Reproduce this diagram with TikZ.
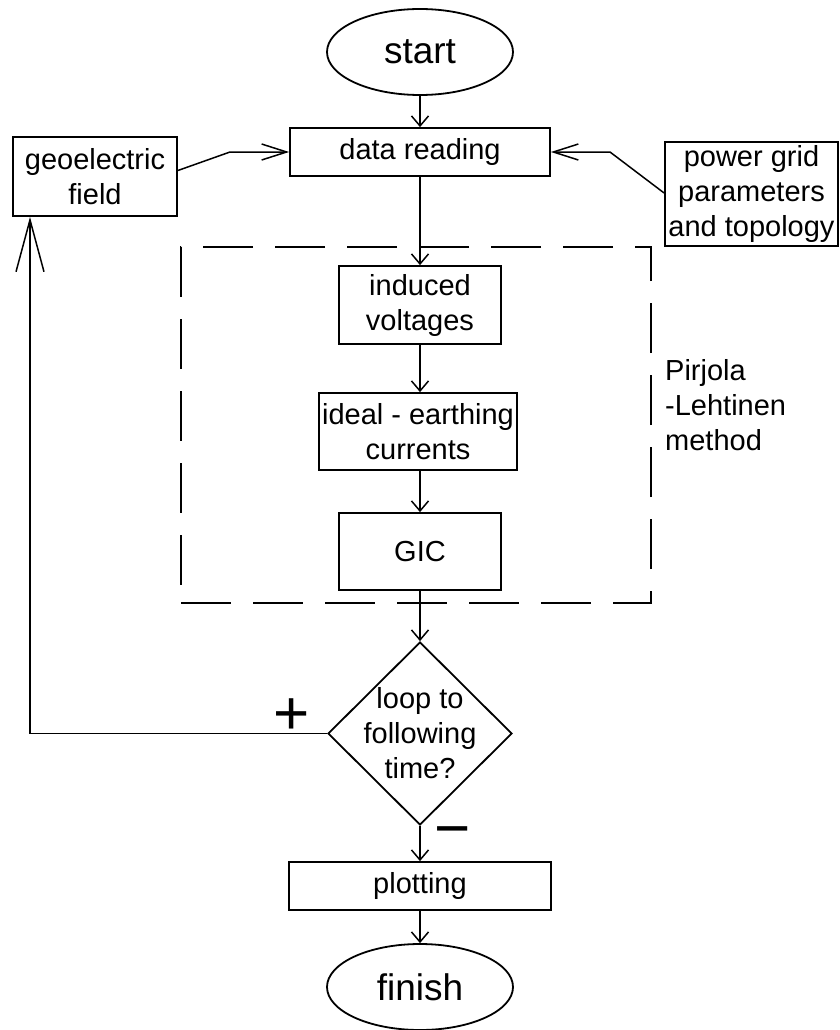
\documentclass[tikz,border=0pt]{standalone}
\usepackage{fontspec}
\setmainfont{Liberation Sans}
\usetikzlibrary{positioning,shapes.geometric,arrows.meta}

\tikzset{
  every node/.style={font=\fontsize{29}{35}\selectfont},
  % --- nodes
  box/.style     = {draw, line width=1.8pt, align=center, inner sep=0pt},
  term/.style    = {box, ellipse, minimum width=186pt, minimum height=86pt,
                    font=\fontsize{37}{40}\selectfont},
  decision/.style= {box, diamond, minimum width=184pt, minimum height=183pt},
  group/.style   = {draw, line width=1.6pt, dash pattern=on 50pt off 22pt,
                    inner sep=0pt, minimum width=470pt, minimum height=356pt},
  note/.style    = {align=left, inner sep=0pt},
  sign/.style    = {font=\fontsize{62}{62}\selectfont, inner sep=0pt},
  % --- edges
  flow/.style    = {line width=1.5pt, -{Straight Barb[length=10pt,width=17pt]}},
  feed/.style    = {line width=1.5pt, -{Straight Barb[length=25pt,width=16pt]}},
  back/.style    = {line width=1.5pt, -{Straight Barb[length=52pt,width=28pt]}},
}

\begin{document}
\begin{tikzpicture}[x=1pt,y=-1pt]
  \useasboundingbox (0,0) rectangle (840,1030);

  \node[term] (start) at (420,52) {start};
  \node[box, minimum width=260pt, minimum height=48pt] (read) at (420,152) {data reading};
  \node[box, minimum width=164pt, minimum height=79pt] (geo) at (95,176.5) {geoelectric\\field};
  \node[box, minimum width=173pt, minimum height=104pt] (grid) at (751.5,194) {power grid\\parameters\\and topology};

  % Pirjola-Lehtinen block
  \node[group] (plm) at (416,425) {};
  \node[box, minimum width=162pt, minimum height=78pt] (volt) at (420,305) {induced\\voltages};
  \node[box, minimum width=198pt, minimum height=77pt] (ideal) at (418,431.5) {ideal - earthing\\currents};
  \node[box, minimum width=162pt, minimum height=77pt] (gic) at (420,551.5) {GIC};
  \node[note, anchor=west] (plmtxt) at (665,405) {Pirjola\\-Lehtinen\\method};

  \node[decision, label={[align=center]center:loop to\\following\\time?}] (loop) at (420,733.5) {};
  \node[sign] (yes) at (292,717) {+};
  \node[sign] (no) at (453,838) {−};

  \node[box, minimum width=262pt, minimum height=48pt] (plot) at (420,886) {plotting};
  \node[term] (finish) at (420,987) {finish};

  \coordinate (gk) at (230,152);
  \coordinate (pk) at (610,152);
  \coordinate (lk) at (30,733.5);

  \draw[flow] (start) -- (read);
  \draw[flow] (read) -- (volt);
  \draw[flow] (volt) -- (ideal.north -| volt);
  \draw[flow] (ideal.south -| volt) -- (gic);
  \draw[flow] (gic) -- (loop);
  \draw[flow] (loop) -- (plot);
  \draw[flow] (plot) -- (finish);

  \draw[feed] ([yshift=6pt]geo.east) -- (gk) -- (read.west);
  \draw[feed] ([yshift=1pt]grid.west) -- (pk) -- (read.east);
  \draw[back] (loop.west) -- (lk) -- (lk |- geo.south);
\end{tikzpicture}
\end{document}
